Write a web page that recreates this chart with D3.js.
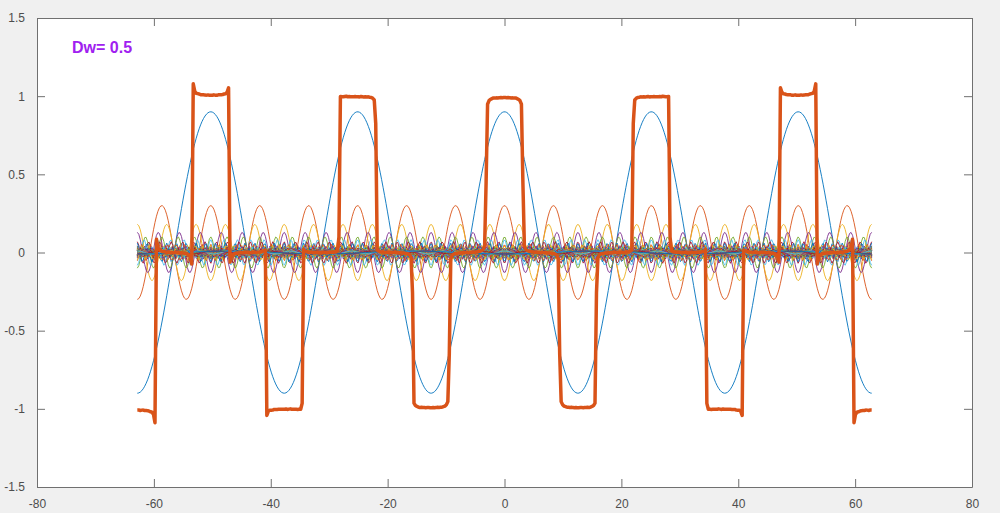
<!DOCTYPE html>
<html>
<head>
<meta charset="utf-8">
<script src="https://cdn.jsdelivr.net/npm/d3@7"></script>
<style>
  body { margin: 0; background: #f0f0f0; }
  svg { display: block; font-family: "Liberation Sans", Arial, sans-serif; }
</style>
</head>
<body>
<script>
// harmonic numbers (odd terms only) and their amplitudes
var harmonicOrder = [1, 3, 5, 7, 9, 11, 13, 15, 17, 19, 21, 23, 25, 27, 29, 31, 33, 35, 37, 39,
  41, 43, 45, 47, 49, 51, 53, 55, 57, 59, 61, 63, 65, 67, 69, 71, 73, 75, 77, 79,
  81, 83, 85, 87, 89, 91, 93, 95, 97, 99];
var harmonicAmp = [0.900, 0.300, -0.180, -0.129, 0.100, 0.082, -0.069, -0.060, 0.053, 0.047,
  -0.043, -0.039, 0.036, 0.033, -0.031, -0.029, 0.027, 0.026, -0.024, -0.023,
  0.022, 0.021, -0.020, -0.019, 0.018, 0.018, -0.017, -0.016, 0.016, 0.015,
  -0.015, -0.014, 0.014, 0.013, -0.013, -0.013, 0.012, 0.012, -0.012, -0.011,
  0.011, 0.011, -0.011, -0.010, 0.010, 0.010, -0.010, -0.009, 0.009, 0.009];
var basePeriod = 25.133;         // period of the fundamental (8*pi)
var xRange = [-62.832, 62.832];  // extent of the curves
var sampleCount = 500;           // points per curve
var xTicks = [-80, -60, -40, -20, 0, 20, 40, 60, 80];
var yTicks = [-1.5, -1, -0.5, 0, 0.5, 1, 1.5];
var label = "Dw= 0.5";

var colors = ["#0072BD", "#D95319", "#EDB120", "#7E2F8E", "#77AC30", "#4DBEEE", "#A2142F"];

var W = 1000, H = 513;
var margin = { top: 18, right: 28, bottom: 26, left: 37 },
    width = W - margin.left - margin.right,
    height = H - margin.top - margin.bottom;

var x = d3.scaleLinear().domain([-80, 80]).range([0, width]);
var y = d3.scaleLinear().domain([-1.5, 1.5]).range([height, 0]);

var svg = d3.select("body").append("svg")
    .attr("width", W)
    .attr("height", H);

var g = svg.append("g")
    .attr("transform", "translate(" + margin.left + "," + margin.top + ")");

g.append("rect")
    .attr("width", width)
    .attr("height", height)
    .attr("fill", "#fff");

// sample points along x (like linspace)
var xs = d3.range(sampleCount).map(function(k) {
  return xRange[0] + k * (xRange[1] - xRange[0]) / (sampleCount - 1);
});
var w0 = 2 * Math.PI / basePeriod;

var line = d3.line()
    .x(function(d) { return x(d[0]); })
    .y(function(d) { return y(d[1]); });

var sum = xs.map(function() { return 0; });

var plot = g.append("g");
harmonicOrder.forEach(function(n, i) {
  var pts = xs.map(function(v, k) {
    var val = harmonicAmp[i] * Math.cos(n * w0 * v);
    sum[k] += val;
    return [v, val];
  });
  plot.append("path")
      .attr("d", line(pts))
      .attr("fill", "none")
      .attr("stroke", colors[i % colors.length])
      .attr("stroke-width", 0.9);
});

// the summed wave, drawn thick on top
plot.append("path")
    .attr("d", line(xs.map(function(v, k) { return [v, sum[k]]; })))
    .attr("fill", "none")
    .attr("stroke", "#D95319")
    .attr("stroke-width", 3.5)
    .attr("stroke-linejoin", "round");

// axes, ticks pointing inward on all four sides
var axisColor = "#707070";
var fmt = function(d) { return String(d); };
g.append("g").attr("transform", "translate(0," + height + ")")
    .call(d3.axisBottom(x).tickValues(xTicks).tickSizeInner(-8).tickSizeOuter(0).tickPadding(12).tickFormat(fmt));
g.append("g")
    .call(d3.axisLeft(y).tickValues(yTicks).tickSizeInner(-8).tickSizeOuter(0).tickPadding(12).tickFormat(fmt));
g.append("g")
    .call(d3.axisTop(x).tickValues(xTicks).tickSizeInner(-8).tickSizeOuter(0).tickFormat(""));
g.append("g").attr("transform", "translate(" + width + ",0)")
    .call(d3.axisRight(y).tickValues(yTicks).tickSizeInner(-8).tickSizeOuter(0).tickFormat(""));

g.selectAll(".domain").attr("stroke", axisColor);
g.selectAll(".tick line").attr("stroke", axisColor);
g.selectAll(".tick text")
    .attr("fill", "#4d4d4d")
    .style("font-size", "12px")
    .style("font-family", "Liberation Sans, Arial, sans-serif");

g.append("text")
    .attr("x", x(-74))
    .attr("y", y(1.275))
    .attr("fill", "#A020F0")
    .style("font-size", "16px")
    .style("font-weight", "bold")
    .text(label);
</script>
</body>
</html>
